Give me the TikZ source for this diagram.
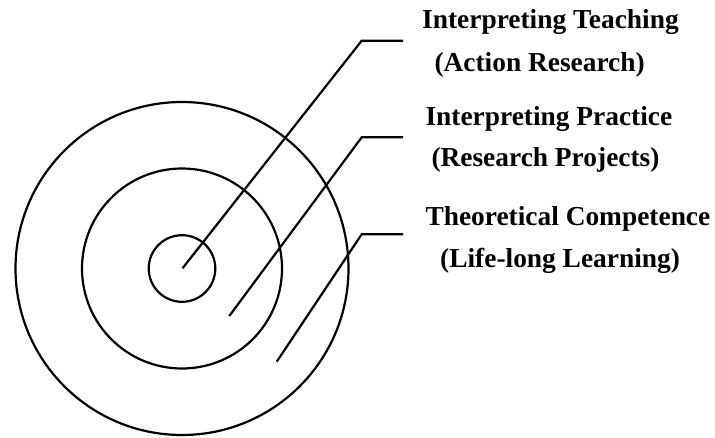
\documentclass[tikz,border=0pt]{standalone}
\usepackage{fontspec}
\setmainfont{Liberation Serif}
\begin{document}
\begin{tikzpicture}[x=1pt,y=-1pt,
  ring/.style={draw=black,line width=2.2pt},
  leader/.style={draw=black,line width=2.2pt,line join=miter},
  lbl/.style={anchor=base west,inner sep=0pt,outer sep=0pt,font=\fontsize{27.4}{30}\selectfont\bfseries}]
\useasboundingbox (0,0) rectangle (715,437);
\coordinate (c) at (182,268.5);
\draw[ring] (c) circle[radius=33.3];
\draw[ring] (c) circle[radius=100];
\draw[ring] (c) circle[radius=166.5];
% leader ends
\coordinate (s1) at (182.5,268.3);
\coordinate (k1) at (361.7,40.7);
\coordinate (e1) at (403,40.7);
\coordinate (s2) at (229.3,316);
\coordinate (k2) at (361.7,137.3);
\coordinate (e2) at (403,137.3);
\coordinate (s3) at (276.7,361.7);
\coordinate (k3) at (361.7,234.3);
\coordinate (e3) at (403,234.3);
\draw[leader] (s1) -- (k1) -- (e1);
\draw[leader] (s2) -- (k2) -- (e2);
\draw[leader] (s3) -- (k3) -- (e3);
% labels
\node[lbl] (t1) at (422.2,28) {Interpreting Teaching};
\node[lbl] (t2) at (434.5,71.5) {(Action Research)};
\node[lbl] (t3) at (425.5,125) {Interpreting Practice};
\node[lbl] (t4) at (431.5,166.7) {(Research Projects)};
\node[lbl] (t5) at (425.5,225.7) {Theoretical Competence};
\node[lbl] (t6) at (440.2,267.7) {(Life-long Learning)};
\end{tikzpicture}
\end{document}
